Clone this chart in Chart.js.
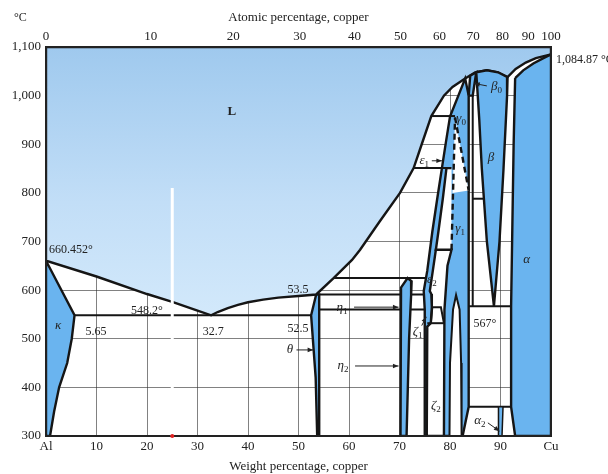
<!DOCTYPE html>
<html>
<head>
<meta charset="utf-8">
<title>Al-Cu phase diagram</title>
<script src="https://cdn.jsdelivr.net/npm/chart.js@4.4.1/dist/chart.umd.min.js"></script>
<style>
  body { margin: 0; background: #fff; }
  #wrap { width: 608px; height: 474px; }
</style>
</head>
<body>
<div id="wrap"><canvas id="chart"></canvas></div>
<script>
// axes
const weightTicks = [0, 10, 20, 30, 40, 50, 60, 70, 80, 90, 100];
const weightTickLabels = ['Al', '10', '20', '30', '40', '50', '60', '70', '80', '90', 'Cu'];
const atomicTicks = [0, 10, 20, 30, 40, 50, 60, 70, 80, 90, 100];
const tempTicks = [300, 400, 500, 600, 700, 800, 900, 1000, 1100];
const tempTickLabels = ['300', '400', '500', '600', '700', '800', '900', '1,000', '1,100'];

// phase boundaries, [wt% Cu, °C]
const liquidus = [[0, 660.45], [10, 628], [20, 592], [25, 576], [30, 558], [32.7, 548.2], [34, 555], [36, 563],
  [38, 569.5], [40, 575], [43, 580.5], [46, 584.5], [50, 588], [53.5, 591], [57, 625], [60.6, 662], [62.2, 683],
  [66, 740], [70.1, 800], [72.8, 851], [74.4, 900], [76.3, 958], [78.8, 1000], [80.5, 1018], [83, 1035], [85, 1048],
  [87.3, 1052], [89.5, 1048], [91.4, 1038], [93, 1055], [95, 1068], [97, 1077], [100, 1084.87]];
const liquidTop = [[100, 1100], [0, 1100], [0, 660.45]];
const kappaPhase = [[0, 660.45], [5.65, 548.2], [5.1, 500], [4.2, 450], [2.6, 400], [1.6, 350], [0.8, 300], [0, 300], [0, 660.45]];
const thetaPhase = [[53.5, 591], [54.1, 591], [54.1, 300], [53.7, 300], [53.4, 420], [52.5, 548.2], [53.5, 591]];
const etaPhase = [[70.2, 300], [70.3, 605], [71.6, 625], [72.4, 618], [72.3, 590], [71.9, 500], [71.4, 300], [70.2, 300]];
const epsGammaPhase = [[74.9, 300], [75.0, 530], [75.0, 560], [74.8, 598], [75.5, 640], [76.5, 720], [77.5, 790], [78.4, 851],
  [79.2, 905], [80.0, 957], [83.0, 1035], [83.7, 1000], [83.7, 360], [82.5, 300], [74.9, 300]];
const beta0Phase = [[83.7, 1000], [84.5, 1000], [85.2, 1048], [84.0, 1041], [83.7, 1000]];
const betaPhase = [[85.2, 1048], [87.3, 1052], [89.5, 1048], [91.4, 1038], [91.3, 1000], [90.6, 850], [89.8, 700], [88.7, 567],
  [87.3, 700], [86.3, 850], [85.8, 950], [85.2, 1048]];
const alphaPhase = [[92.9, 1036], [94.5, 1052], [96.5, 1066], [98.5, 1077], [100, 1084.87], [100, 300], [92.9, 300], [92.1, 360],
  [92.1, 567], [92.3, 700], [92.6, 900], [92.9, 1036]];
const alpha2Phase = [[89.6, 360], [90.5, 360], [90.3, 300], [89.7, 300], [89.6, 360]];

// two-phase pockets inside the Cu-rich blue field
const epsGammaGap = [[80.3, 851], [79.3, 851], [78.6, 790], [77.7, 720], [77.2, 683], [80.3, 683]];
const zetaGap = [[75.4, 300], [78.8, 300], [78.9, 560], [79.5, 650], [80.3, 683], [77.2, 683], [76.6, 640], [76.0, 598],
  [76.3, 592], [76.4, 565], [76.2, 532], [75.5, 525], [75.4, 300]];
const gammaLens = [[79.9, 300], [80.0, 450], [80.6, 560], [81.2, 590], [81.9, 560], [82.2, 450], [82.3, 300], [79.9, 300]];
const gammaWedge = [[81.0, 955], [80.5, 800], [83.7, 805], [81.0, 955]];
const dashedLines = [
  [[80.3, 683], [81.0, 955]],
  [[81.0, 955], [83.7, 805]]
];

const isothermsUnder = [
  [[5.65, 548.2], [52.5, 548.2]],
  [[53.5, 591], [75.2, 591]],
  [[57.0, 625], [75.4, 625]],
  [[54.1, 560], [75.0, 560]],
  [[84.5, 788], [86.7, 788]],
  [[84.5, 567], [84.5, 1000]],
  [[83.7, 567], [92.1, 567]],
  [[83.7, 360], [92.1, 360]]
];
const isothermsOver = [
  [[76.3, 958], [81.0, 958]],
  [[72.8, 851], [79.3, 851]],
  [[76.2, 532], [76.5, 565], [78.2, 565], [78.8, 532]],
  [[75.5, 532], [78.9, 532]]
];

// labels
const phaseLabels = [
  ['L', '', 36.8, 968, 'bold'], ['κ', '', 2.4, 528, 'italic'], ['θ', '', 48.3, 477, 'italic'],
  ['η', '1', 58.6, 565, 'italic'], ['η', '2', 58.8, 444, 'italic'], ['ζ', '1', 73.6, 514, 'italic'],
  ['ζ', '2', 77.2, 362, 'italic'], ['ε', '1', 74.9, 866, 'italic'], ['ε', '2', 76.4, 622, 'italic'],
  ['γ', '0', 82.2, 952, 'italic'], ['γ', '1', 82.0, 726, 'italic'], ['β', '0', 89.2, 1018, 'italic'],
  ['β', '', 88.1, 872, 'italic'], ['α', '', 95.2, 662, 'italic'], ['α', '2', 85.9, 331, 'italic']
];
const valueLabels = [
  ['660.452°', 0.6, 683, 'left'], ['548.2°', 20, 558, 'center'], ['5.65', 9.9, 515, 'center'],
  ['32.7', 33.1, 515, 'center'], ['53.5', 49.9, 601, 'center'], ['52.5', 49.9, 520, 'center'],
  ['567°', 86.9, 530, 'center']
];
const arrows = [
  [49.6, 477, 52.9, 477], [61.0, 565, 69.8, 565], [61.2, 444, 69.8, 444], [76.4, 866, 78.4, 866],
  [87.3, 1020, 84.8, 1025], [87.5, 327, 89.8, 310], [74.4, 527, 75.3, 545]
];
const scanLine = [[25, 300], [25, 810]];

const SERIF = "'Liberation Serif', 'DejaVu Serif', serif";
const INK = '#222';
const BLUE = '#6ab4ef';

function atomicToWeight(a) {
  const cu = a * 63.546, al = (100 - a) * 26.982;
  return 100 * cu / (cu + al);
}

const pts = a => a.map(([x, y]) => ({ x, y }));
function area(points, color, extra) {
  return Object.assign({ data: pts(points), backgroundColor: color, fill: 'shape', borderColor: '#151515',
    borderWidth: 2.4, pointRadius: 0, tension: 0 }, extra);
}
function line(points, extra) {
  return Object.assign({ data: pts(points), fill: false, borderColor: '#151515', borderWidth: 2,
    pointRadius: 0, tension: 0 }, extra);
}

const liquidFill = ctx => {
  const a = ctx.chart.chartArea;
  if (!a) return '#c4e0f7';
  const g = ctx.chart.ctx.createLinearGradient(0, a.top, 0, a.bottom);
  g.addColorStop(0, '#9fc9ee');
  g.addColorStop(0.4, '#c2def7');
  g.addColorStop(0.7, '#d3e9fb');
  g.addColorStop(1, '#d8ecfc');
  return g;
};

// bottom first
const painted = [
  area(liquidus.concat(liquidTop), liquidFill),
  ...isothermsUnder.map(l => line(l)),
  area(kappaPhase, BLUE), area(thetaPhase, BLUE), area(etaPhase, BLUE), area(epsGammaPhase, BLUE),
  area(beta0Phase, BLUE), area(betaPhase, BLUE), area(alphaPhase, BLUE), area(alpha2Phase, BLUE, { borderWidth: 1.5 }),
  area(zetaGap, '#fff'), area(epsGammaGap, '#fff'), area(gammaLens, '#fff', { borderWidth: 2 }),
  area(gammaWedge, '#fff', { borderWidth: 0 }),
  ...dashedLines.map(l => line(l, { borderWidth: 2.4, borderDash: [6, 4] })),
  ...isothermsOver.map(l => line(l))
];

function arrow(ctx, x1, y1, x2, y2) {
  const ang = Math.atan2(y2 - y1, x2 - x1);
  ctx.beginPath(); ctx.moveTo(x1, y1); ctx.lineTo(x2, y2); ctx.stroke();
  ctx.beginPath();
  ctx.moveTo(x2, y2);
  ctx.lineTo(x2 - 6 * Math.cos(ang - 0.4), y2 - 6 * Math.sin(ang - 0.4));
  ctx.lineTo(x2 - 6 * Math.cos(ang + 0.4), y2 - 6 * Math.sin(ang + 0.4));
  ctx.closePath(); ctx.fill();
}

const annotate = {
  id: 'annotate',
  afterDraw(chart) {
    const { ctx, chartArea: a, scales: { x, y } } = chart;
    const px = v => x.getPixelForValue(v), py = v => y.getPixelForValue(v);
    ctx.save();
    ctx.strokeStyle = INK; ctx.lineWidth = 2;
    ctx.strokeRect(a.left, a.top, a.right - a.left, a.bottom - a.top);

    ctx.fillStyle = INK; ctx.strokeStyle = INK; ctx.lineWidth = 1;
    ctx.textBaseline = 'middle';
    phaseLabels.forEach(([base, sub, wx, t, style]) => {
      ctx.font = `${style} 13px ${SERIF}`;
      const w = ctx.measureText(base).width;
      ctx.font = `9px ${SERIF}`;
      const sw = sub ? ctx.measureText(sub).width : 0;
      const left = px(wx) - (w + sw) / 2;
      ctx.textAlign = 'left';
      ctx.font = `${style} 13px ${SERIF}`;
      ctx.fillText(base, left, py(t));
      if (sub) { ctx.font = `9px ${SERIF}`; ctx.fillText(sub, left + w, py(t) + 4); }
    });
    ctx.font = `12px ${SERIF}`;
    valueLabels.forEach(([s, wx, t, align]) => {
      ctx.textAlign = align;
      ctx.fillText(s, px(wx), py(t));
    });
    arrows.forEach(([x1, t1, x2, t2]) => arrow(ctx, px(x1), py(t1), px(x2), py(t2)));

    ctx.textAlign = 'left';
    ctx.font = `12px ${SERIF}`;
    ctx.fillText('°C', a.left - 32, a.top - 29);
    ctx.fillText('1,084.87 °C', px(100) + 5, py(1084.87) + 5);

    // white scan line left on the source image
    ctx.strokeStyle = '#fff'; ctx.lineWidth = 3;
    ctx.beginPath();
    ctx.moveTo(px(scanLine[0][0]), py(scanLine[0][1]));
    ctx.lineTo(px(scanLine[1][0]), py(scanLine[1][1]));
    ctx.stroke();
    ctx.fillStyle = '#e02020';
    ctx.beginPath(); ctx.arc(px(scanLine[0][0]), py(scanLine[0][1]), 2, 0, Math.PI * 2); ctx.fill();
    ctx.restore();
  }
};

const tickFont = { family: SERIF, size: 13 };
const gridColor = 'rgba(45,45,45,0.6)';

new Chart(document.getElementById('chart'), {
  type: 'line',
  data: { datasets: painted.slice().reverse() },
  options: {
    responsive: true,
    maintainAspectRatio: false,
    animation: false,
    layout: { padding: { left: 0, right: 57, top: 0, bottom: 0 } },
    plugins: { legend: { display: false }, tooltip: { enabled: false } },
    scales: {
      x: {
        type: 'linear', position: 'bottom', min: 0, max: 100, z: 1,
        afterBuildTicks: s => { s.ticks = weightTicks.map(v => ({ value: v })); },
        ticks: { autoSkip: false, maxRotation: 0, padding: 3, font: tickFont, color: INK,
          callback: (v, i) => weightTickLabels[i] },
        grid: { color: gridColor, lineWidth: 1, drawTicks: false },
        border: { display: false },
        title: { display: true, text: 'Weight percentage, copper', font: { family: SERIF, size: 13 }, color: INK,
          padding: { top: 5, bottom: 0 } },
        afterFit: s => { s.height = 38; }
      },
      xTop: {
        type: 'linear', position: 'top', min: 0, max: 100, z: 1,
        afterBuildTicks: s => { s.ticks = atomicTicks.map(v => ({ value: atomicToWeight(v) })); },
        ticks: { autoSkip: false, maxRotation: 0, padding: 3, font: tickFont, color: INK,
          callback: (v, i) => String(atomicTicks[i]) },
        grid: { drawOnChartArea: false, drawTicks: false },
        border: { display: false },
        title: { display: true, text: 'Atomic percentage, copper', font: { family: SERIF, size: 13 }, color: INK,
          padding: { top: 10, bottom: 0 } },
        afterFit: s => { s.height = 47; }
      },
      y: {
        type: 'linear', min: 300, max: 1100, z: 1,
        afterBuildTicks: s => { s.ticks = tempTicks.map(v => ({ value: v })); },
        ticks: { autoSkip: false, padding: 5, font: tickFont, color: INK,
          callback: (v, i) => tempTickLabels[i] },
        grid: { color: gridColor, lineWidth: 1, drawTicks: false },
        border: { display: false },
        afterFit: s => { s.height; s.width = 46; }
      }
    }
  },
  plugins: [annotate]
});
</script>
</body>
</html>
